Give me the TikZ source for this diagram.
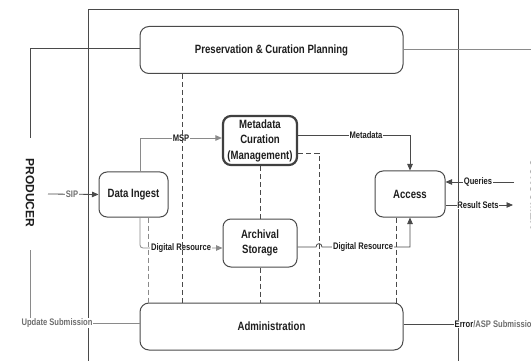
\documentclass[tikz,border=0pt]{standalone}
\usepackage{fontspec}
\setmainfont{Liberation Sans}
\newfontfamily\narrowsans[FakeStretch=0.8]{Liberation Sans}
\usetikzlibrary{arrows.meta}
\definecolor{ink}{HTML}{1E1E1E}
\definecolor{edge}{HTML}{4A4A4A}
\definecolor{soft}{HTML}{8A8A8A}
\definecolor{greytext}{HTML}{6E6E6E}

\begin{document}
\begin{tikzpicture}[x=1pt,y=-1pt,
  box/.style={draw=edge, line width=1pt, rounded corners=9pt, fill=white,
    font=\narrowsans\bfseries\fontsize{12}{15.5}\selectfont, text=ink,
    align=center, inner sep=0pt},
  flow/.style={draw=edge, line width=0.8pt},
  softflow/.style={draw=soft, line width=0.8pt},
  tip/.style={-{Triangle[length=6.5pt,width=5.5pt]}},
  lbl/.style={font=\narrowsans\bfseries\fontsize{9.5}{10}\selectfont, text=ink,
    fill=white, inner sep=0.8pt},
  guide/.style={draw=edge, line width=0.9pt, dash pattern=on 5pt off 3pt},
  softguide/.style={draw=soft, line width=0.9pt, dash pattern=on 5pt off 3pt},
  side/.style={font=\bfseries\fontsize{12}{14}\selectfont, text=ink, rotate=-90},
]
\useasboundingbox (0,0) rectangle (531,361);
\fill[white] (0,0) rectangle (531,361);

% archive boundary
\draw[draw=edge, line width=1pt] (88,10) rectangle (458,372);

% functional entities
\node[box, minimum width=263pt, minimum height=47pt] (plan) at (271.5,50) {Preservation \& Curation Planning};
\node[box, minimum width=69pt, minimum height=45pt, rounded corners=8pt] (ingest) at (133.5,194.5) {Data Ingest};
\node[box, minimum width=74pt, minimum height=49pt, rounded corners=8pt, line width=2.2pt, draw=black!75] (meta) at (260,140.5) {Metadata\\Curation\\(Management)};
\node[box, minimum width=74pt, minimum height=48pt, rounded corners=8pt] (archive) at (260,243) {Archival\\Storage};
\node[box, minimum width=70pt, minimum height=46pt, rounded corners=8pt] (access) at (410,194) {Access};
\node[box, minimum width=263pt, minimum height=47pt] (admin) at (271.5,326.5) {Administration};

% outside actors
\node[side] (producer) at (30,193) {PRODUCER};
\node[side] (consumer) at (535,194) {CONSUMER};
\coordinate (prodtop) at (30,138);
\coordinate (prodlow) at (30,250);
\coordinate (sipsrc) at (48,194);
\coordinate (qsrc) at (514,182);
\coordinate (rdst) at (513,205);
\coordinate (planout) at (535,49);
\coordinate (hop) at (319,247);

% planning links to the outside
\draw[flow] ([yshift=2pt]plan.west) -| (prodtop);
\draw[softflow] ([yshift=1pt]plan.east) -- (planout);

% submissions
\draw[flow, tip] (sipsrc) -- (ingest.west);
\node[lbl, text=greytext] (siplbl) at (72,194) {SIP};

\node[lbl, text=greytext] (updlbl) at (57,323) {Update Submission};
\draw[softflow] (prodlow) -- (prodlow |- updlbl.north);
\draw[softflow] (updlbl.east) -- ([yshift=3.5pt]admin.west);

\node[lbl, anchor=west, inner sep=0.5pt] (errlbl) at (454,324) {Error\textcolor{greytext}{/ASP Submission}};
\draw[flow] ([yshift=2.5pt]admin.east) -- (errlbl.west);

% ingest flows
\draw[softflow, tip] ([xshift=6.5pt]ingest.north) |- ([yshift=2.5pt]meta.west);
\node[lbl] (msplbl) at (181,138) {MSP};
\draw[softflow, tip, rounded corners=3pt] ([xshift=6.5pt]ingest.south) |- ([yshift=-5pt]archive.west);
\node[lbl] (drlbl1) at (181,248) {Digital Resource};

% delivery flows
\draw[flow, tip] ([yshift=5.5pt]meta.east) -| (access.north);
\node[lbl] (mdlbl) at (366,135) {Metadata};
\draw[flow, tip] ([yshift=-4pt]archive.east) -- ([xshift=-3pt]hop)
  .. controls ([xshift=-3pt,yshift=4.5pt]hop) and ([xshift=3pt,yshift=4.5pt]hop) .. ([xshift=3pt]hop)
  -| (access.south);
\node[lbl] (drlbl2) at (363,247) {Digital Resource};

% consumer interface
\draw[flow, tip] (qsrc) -- ([yshift=12pt]access.east);
\node[lbl] (qlbl) at (478,182) {Queries};
\draw[flow, tip] ([yshift=-11pt]access.east) -- (rdst);
\node[lbl] (rslbl) at (478,205) {Result Sets};

% management control lines
\draw[guide] ([xshift=-89.5pt]plan.south) -- ([xshift=-89.5pt]admin.north);
\draw[softguide] ([xshift=14.5pt]ingest.south) -- ([xshift=14.5pt]ingest.south |- admin.north);
\draw[guide] (meta.south) -- (archive.north);
\draw[guide] (archive.south) -- (archive.south |- admin.north);
\draw[guide] ([yshift=-12.5pt]meta.east) -| ([xshift=47.5pt]admin.north);
\draw[guide] ([xshift=-14pt]access.south) -- ([xshift=-14pt]access.south |- admin.north);
\end{tikzpicture}
\end{document}
